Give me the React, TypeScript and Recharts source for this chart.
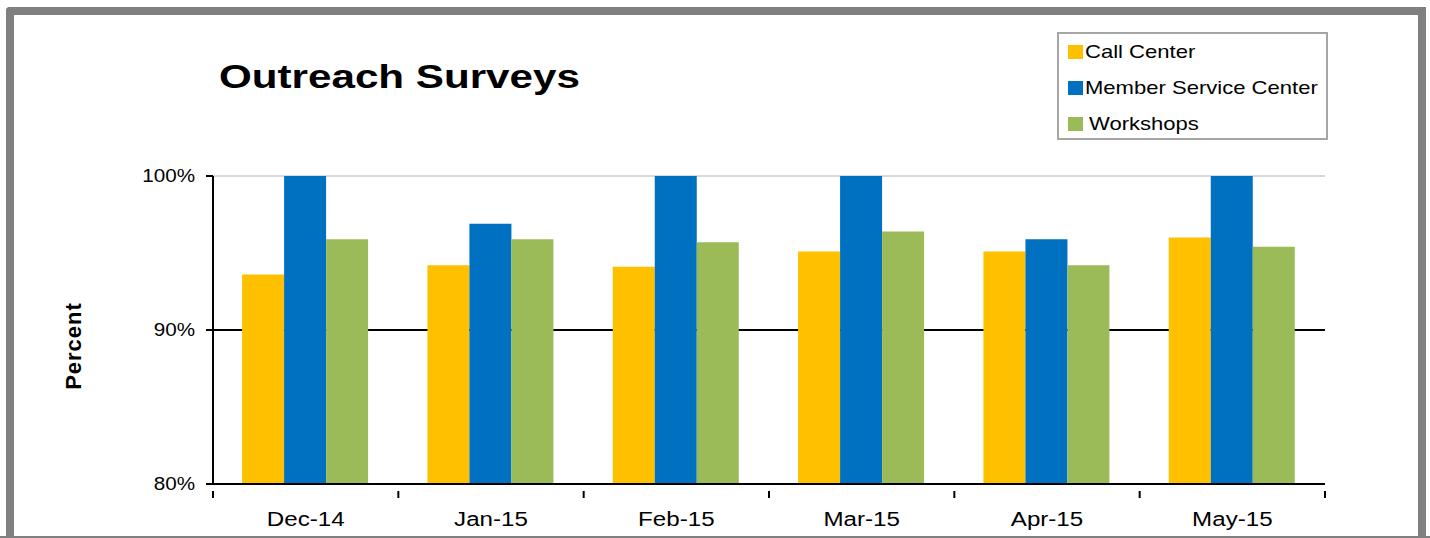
import { BarChart, Bar, XAxis, YAxis, CartesianGrid } from "recharts";

const months = ["Dec-14", "Jan-15", "Feb-15", "Mar-15", "Apr-15", "May-15"];
const callCenter = [93.6, 94.2, 94.1, 95.1, 95.1, 96.0];
const memberService = [100, 96.9, 100, 100, 95.9, 100];
const workshops = [95.9, 95.9, 95.7, 96.4, 94.2, 95.4];
const yTicks = [80, 90, 100];

const SERIES = [
  { key: "callCenter", name: "Call Center", color: "#FFC000" },
  { key: "memberService", name: "Member Service Center", color: "#0070C0" },
  { key: "workshops", name: "Workshops", color: "#9BBB59" },
];

const FONT = "'Liberation Sans', Arial, sans-serif";

const data = months.map((m, i) => ({
  month: m,
  callCenter: callCenter[i],
  memberService: memberService[i],
  workshops: workshops[i],
}));

// Excel-style category axis: tick marks sit between the categories
function MonthTick(props: any) {
  const { x, y, payload, index, visibleTicksCount } = props;
  const half = payload.offset ?? 0;
  const last = index === visibleTicksCount - 1;
  return (
    <g>
      <line x1={x - half} x2={x - half} y1={y - 1} y2={y + 6} stroke="#000" strokeWidth={2} />
      {last && (
        <line x1={x + half} x2={x + half} y1={y - 1} y2={y + 6} stroke="#000" strokeWidth={2} />
      )}
      <text
        transform={`translate(${x},${y + 34}) scale(1.15,1)`}
        textAnchor="middle"
        fontFamily={FONT}
        fontSize={21}
        fill="#000"
      >
        {payload.value}
      </text>
    </g>
  );
}

function PercentTick(props: any) {
  const { x, y, payload } = props;
  return (
    <text
      transform={`translate(${x},${y}) scale(1.18,1)`}
      textAnchor="end"
      dy="0.36em"
      fontFamily={FONT}
      fontSize={17.5}
      fill="#000"
    >
      {`${payload.value}%`}
    </text>
  );
}

function LegendBox() {
  return (
    <div
      style={{
        position: "absolute",
        left: 1057,
        top: 32,
        width: 271,
        height: 108,
        border: "2px solid #a6a6a6",
        boxSizing: "border-box",
        background: "#fff",
        paddingLeft: 9,
        fontFamily: FONT,
      }}
    >
      {SERIES.map((s) => (
        <div key={s.key} style={{ display: "flex", alignItems: "center", height: 36, fontSize: 19 }}>
          <span
            style={{
              width: 15,
              height: 14,
              background: s.color,
              display: "inline-block",
              marginRight: s.key === "workshops" ? 6 : 2,
            }}
          />
          <span
            style={{
              color: "#000",
              display: "inline-block",
              transform: "scaleX(1.16)",
              transformOrigin: "left center",
              whiteSpace: "nowrap",
            }}
          >
            {s.name}
          </span>
        </div>
      ))}
    </div>
  );
}

export default function App() {
  return (
    <div style={{ position: "absolute", left: 0, top: 0, width: 1430, height: 538, background: "#fff", overflow: "hidden" }}>
      <div
        style={{
          position: "absolute",
          left: 6,
          top: 7,
          width: 1420,
          height: 540,
          boxSizing: "border-box",
          borderTop: "8px solid #808080",
          borderLeft: "8px solid #808080",
          borderRight: "8px solid #808080",
          borderTopLeftRadius: 4,
        }}
      />
      <div style={{ position: "absolute", left: 0, top: 536, width: 1430, height: 2, background: "#808080" }} />
      <div
        style={{
          position: "absolute",
          left: 219,
          top: 59,
          fontFamily: FONT,
          fontWeight: "bold",
          fontSize: 34,
          lineHeight: "34px",
          color: "#000",
          whiteSpace: "nowrap",
          transform: "scaleX(1.24)",
          transformOrigin: "left center",
        }}
      >
        Outreach Surveys
      </div>
      <div
        style={{
          position: "absolute",
          left: 74,
          top: 346,
          transform: "translate(-50%, -50%) rotate(-90deg)",
          fontFamily: FONT,
          fontWeight: "bold",
          fontSize: 22,
          lineHeight: "22px",
          letterSpacing: 1,
          color: "#000",
          whiteSpace: "nowrap",
        }}
      >
        Percent
      </div>
      <div style={{ position: "absolute", left: 0, top: 0 }}>
        <BarChart
          width={1430}
          height={538}
          data={data}
          margin={{ top: 176, right: 105, bottom: 0, left: 153 }}
          barCategoryGap="15.7%"
          barGap={0}
        >
          <CartesianGrid vertical={false} horizontalValues={[100]} stroke="#d9d9d9" strokeWidth={2} />
          <CartesianGrid vertical={false} horizontalValues={[90]} stroke="#000" strokeWidth={2} />
          <XAxis
            dataKey="month"
            height={54}
            axisLine={{ stroke: "#000", strokeWidth: 2 }}
            tickLine={false}
            tick={<MonthTick />}
            interval={0}
          />
          <YAxis
            width={60}
            domain={[80, 100]}
            ticks={yTicks}
            allowDataOverflow
            axisLine={{ stroke: "#000", strokeWidth: 2 }}
            tickLine={{ stroke: "#000", strokeWidth: 2 }}
            tickSize={7}
            tickMargin={11}
            tick={<PercentTick />}
          />
          {SERIES.map((s) => (
            <Bar key={s.key} dataKey={s.key} name={s.name} fill={s.color} isAnimationActive={false} />
          ))}
        </BarChart>
      </div>
      <LegendBox />
    </div>
  );
}
